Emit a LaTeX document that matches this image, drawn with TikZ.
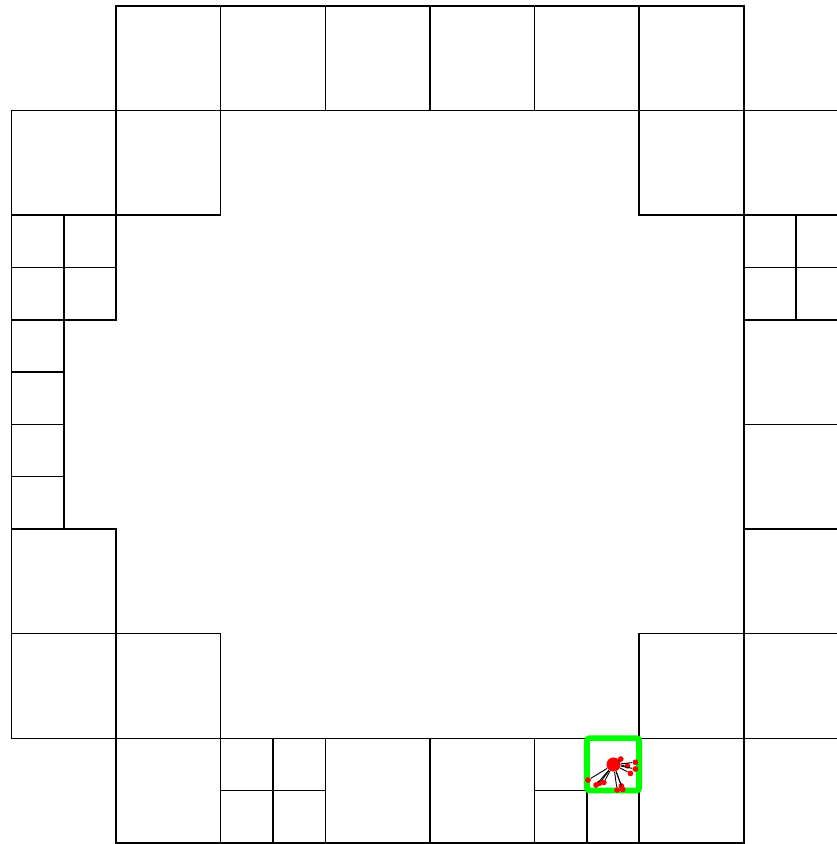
\documentclass[tikz,border=0pt]{standalone}
\begin{document}
\begin{tikzpicture}[x=2.0cm,y=-2.0cm,
  cell/.style={draw=black,line width=0.8pt},
  hilite/.style={draw=green,line width=3.2pt,rounded corners=1.5pt},
  hub/.style={circle,fill=red,inner sep=0pt,minimum size=0.27cm},
  leaf/.style={circle,fill=red,inner sep=0pt,minimum size=0.11cm},
  spoke/.style={draw=black,line width=0.5pt}]
 \useasboundingbox (-0.110,-0.057) rectangle (7.882,8.011);
 % whole cells
 \foreach \c/\r in {1/0,2/0,3/0,4/0,5/0,6/0, 0/1,1/1,6/1,7/1, 7/3,7/4, 0/5,7/5,
                    0/6,1/6,6/6,7/6, 1/7,3/7,4/7,6/7}
  \draw[cell] (\c,\r) rectangle ++(1,1);
 % half cells
 \foreach \c/\r in {0/2,0.5/2,0/2.5,0.5/2.5, 7/2,7.5/2,7/2.5,7.5/2.5,
                    0/3,0/3.5,0/4,0/4.5, 2/7,2.5/7,2/7.5,2.5/7.5,
                    5/7,5/7.5,5.5/7.5,5.5/7}
  \draw[cell] (\c,\r) rectangle ++(0.5,0.5);
 \draw[hilite] (5.5,7) rectangle (6,7.5);
 % particle and neighbours
 \node[hub] (hub) at (5.755,7.251) {};
 \foreach \i/\p in {1/{5.964,7.230},2/{5.887,7.263},3/{5.964,7.294},4/{5.916,7.336},
                    5/{5.511,7.400},6/{5.588,7.447},7/{5.620,7.431},8/{5.662,7.422},
                    9/{5.789,7.495},10/{5.830,7.457},11/{5.843,7.489},12/{5.824,7.199}}
  \node[leaf] (nb\i) at (\p) {};
 \foreach \i in {1,...,12}
  \draw[spoke] (hub) -- (nb\i);
\end{tikzpicture}
\end{document}
